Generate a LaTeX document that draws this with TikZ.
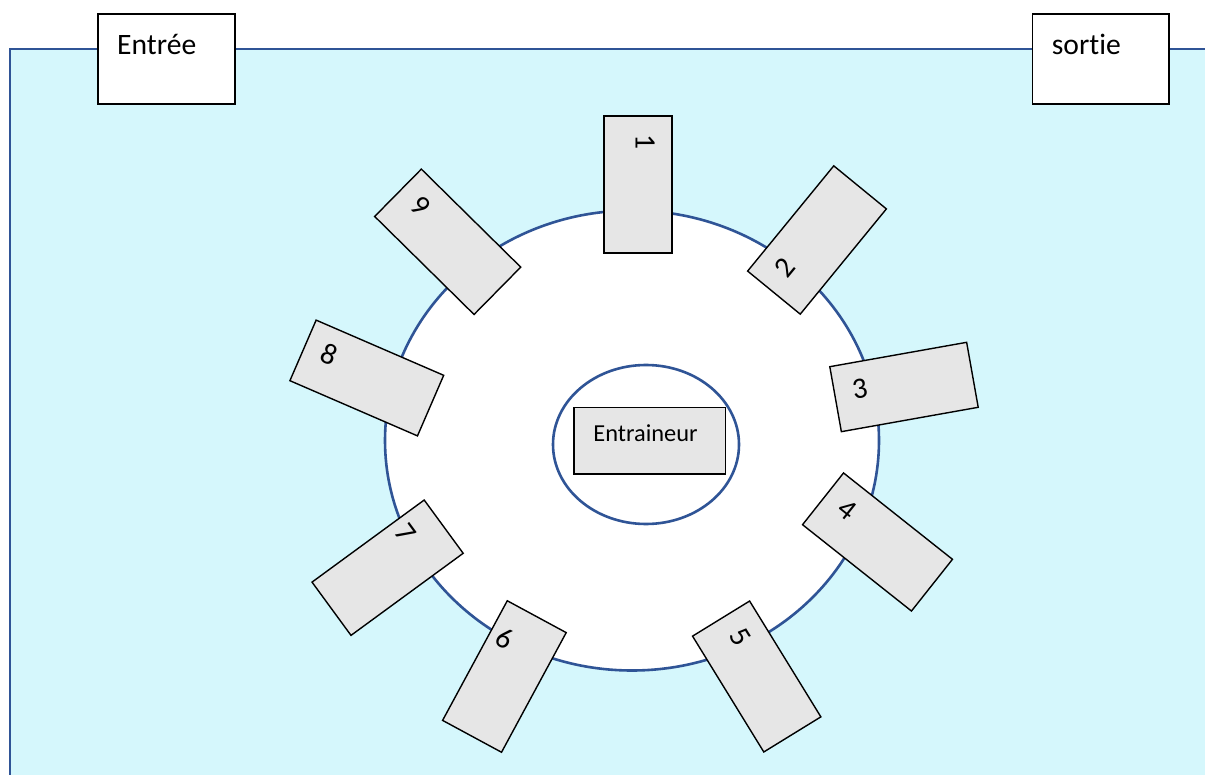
\documentclass[tikz,border=0pt]{standalone}
\usepackage{fontspec}
\setmainfont{Carlito}[Ligatures=NoCommon]
\definecolor{fond}{RGB}{213,247,252}
\definecolor{bordure}{RGB}{47,84,150}
\definecolor{gris}{RGB}{230,230,230}
\begin{document}
\begin{tikzpicture}[x=0.5pt, y=-0.5pt,
    boite/.style={draw=black, line width=0.8pt, fill=white, inner sep=0pt},
    poste/.style={draw=black, line width=0.7pt, fill=gris, inner sep=0pt},
    texte/.style={anchor=north west, inner ysep=0pt, text depth=0pt, font=\fontsize{14.8}{17}\selectfont},
    piste/.style={draw=bordure, line width=1.3pt, fill=white}]
        \useasboundingbox (0,0) rectangle (1205,775);
        \clip (0,0) rectangle (1205,775);

        % Salle
        \fill[fond] (10,49) rectangle (1220,790);
        \draw[bordure, line width=1.3pt] (10,790) -- (10,49) -- (1220,49);

        % Piste et centre
        \draw[piste] (632,440.5) ellipse [x radius=247, y radius=230];
        \draw[piste] (646,444.5) ellipse [x radius=93, y radius=79.5];
        \node[poste, minimum width=75.6pt, minimum height=33.3pt] (entraineur) at (649.7,440.7) {};
        \node[texte, inner xsep=9.8pt, text height=17.3pt, font=\fontsize{12.2}{14}\selectfont]
        (entraineur-txt) at (entraineur.north west) {Entraineur};

        % Postes autour de la piste (numero en haut a gauche du cadre tourne)
        \foreach \k/\x/\y/\a/\w/\h/\ix/\iy in {
            1/638/184.5/-90/137/68/9.3/18.3,
            2/817/240/50.7/136/68/9.3/18.3,
            3/904/387/10.1/139/66/9.3/18.3,
            4/877.5/542/-38.4/139/66/9.3/18.3,
            5/756.7/676.5/-58.4/136/67/9.3/18.3,
            6/504.4/676.5/-28.4/67/136/4.2/22,
            7/387.6/567.7/-53.8/66/139/4.2/22,
            8/366.8/378/-23.4/139/66/9.3/18.3,
            9/447.7/241.8/-44.6/139.6/66.5/9.3/18.3}{
            \node[poste, rotate=\a, minimum width=\w*0.5pt, minimum height=\h*0.5pt] (poste\k) at (\x,\y) {};
            \node[texte, rotate=\a, inner xsep=\ix pt, text height=\iy pt] (num\k) at (poste\k.north west) {\k};
        }

        % Entree et sortie
        \node[boite, minimum width=68.5pt, minimum height=45pt] (entree) at (166.5,59.2) {};
        \node[texte, inner xsep=9.8pt, text height=20.2pt] (entree-txt) at (entree.north west) {Entrée};
        \node[boite, minimum width=68.2pt, minimum height=45pt] (sortie) at (1100.5,59.2) {};
        \node[texte, inner xsep=10pt, text height=20.2pt] (sortie-txt) at (sortie.north west) {sortie};

      \end{tikzpicture}
\end{document}
